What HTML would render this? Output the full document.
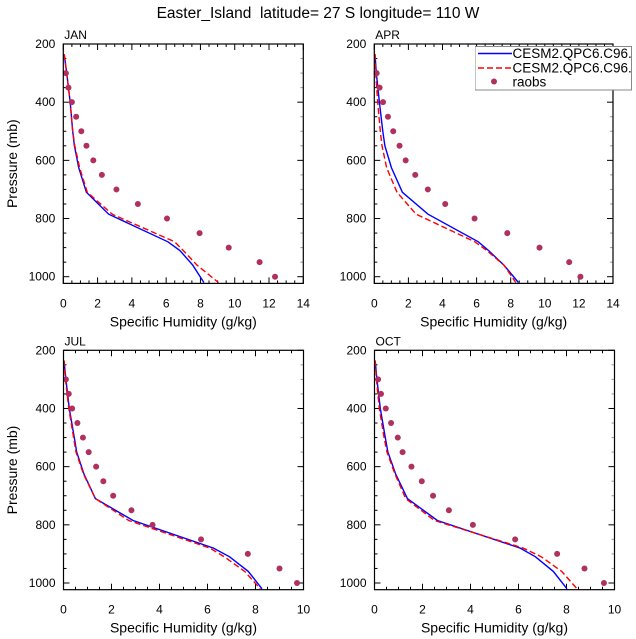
<!DOCTYPE html>
<html><head><meta charset="utf-8">
<style>
html,body{margin:0;padding:0;background:#fff;}
svg{display:block;font-family:"Liberation Sans",sans-serif;}
</style></head>
<body>
<svg id="chart" width="636" height="639" viewBox="0 0 636 639" xmlns="http://www.w3.org/2000/svg">
<defs><clipPath id="legclip"><rect x="475" y="46" width="157" height="45"/></clipPath></defs>
<text x="318" y="18" font-size="15.5" text-anchor="middle" style="white-space:pre">Easter_Island  latitude= 27 S longitude= 110 W</text>
</svg>
<script>
// Shared model pressure levels (mb)
const modelLevels = [235, 300, 400, 500, 550, 625, 710, 785, 880, 910, 960, 1020];
// Observation pressure levels (mb)
const obsLevels = [300, 350, 400, 450, 500, 550, 600, 650, 700, 750, 800, 850, 900, 950, 1000];

const janBlue = [0.05, 0.2, 0.4, 0.55, 0.65, 0.9, 1.35, 2.65, 6.1, 6.8, 7.55, 8.2];
const janRed  = [0.05, 0.2, 0.4, 0.55, 0.67, 0.95, 1.4, 2.85, 6.5, 7.0, 7.8, 9.05];
const janObs  = [0.15, 0.3, 0.5, 0.75, 1.05, 1.35, 1.75, 2.25, 3.1, 4.35, 6.05, 7.95, 9.65, 11.45, 12.35];

const aprBlue = [0.04, 0.12, 0.3, 0.5, 0.62, 1.0, 1.65, 3.15, 6.1, 6.7, 7.6, 8.45];
const aprRed  = [0.04, 0.08, 0.2, 0.35, 0.45, 0.72, 1.33, 2.45, 5.9, 6.6, 7.6, 8.3];
const aprObs  = [0.14, 0.31, 0.51, 0.8, 1.11, 1.48, 1.84, 2.4, 3.14, 4.16, 5.88, 7.8, 9.69, 11.43, 12.09];

const julBlue = [0.02, 0.1, 0.24, 0.45, 0.55, 0.85, 1.33, 2.9, 6.25, 6.92, 7.7, 8.27];
const julRed  = [0.02, 0.08, 0.22, 0.42, 0.52, 0.83, 1.33, 2.72, 6.1, 6.7, 7.55, 8.2];
const julObs  = [0.1, 0.22, 0.36, 0.58, 0.81, 1.05, 1.36, 1.66, 2.07, 2.83, 3.71, 5.73, 7.68, 9.0, 9.73];

const octBlue = [0.03, 0.1, 0.24, 0.45, 0.56, 0.88, 1.37, 2.62, 6.07, 6.71, 7.45, 8.02];
const octRed  = [0.03, 0.08, 0.2, 0.4, 0.52, 0.85, 1.3, 2.5, 6.2, 6.95, 7.8, 8.44];
const octObs  = [0.15, 0.27, 0.47, 0.69, 0.97, 1.17, 1.54, 1.97, 2.44, 3.1, 4.1, 5.86, 7.61, 8.75, 9.56];

const yTicks = [200, 400, 600, 800, 1000];
const xTicksTop = [0, 2, 4, 6, 8, 10, 12, 14];
const xTicksBottom = [0, 2, 4, 6, 8, 10];

const NS = "http://www.w3.org/2000/svg";
const svg = document.getElementById('chart');
function mk(tag, attrs, parent) {
  const e = document.createElementNS(NS, tag);
  for (const k in attrs) e.setAttribute(k, attrs[k]);
  (parent || svg).appendChild(e);
  return e;
}

function panel(cfg) {
  const g = mk('g', {});
  
  
  const L = cfg.left, R = cfg.right, T = cfg.top;
  const pTop = 200, pBot = 1023;
  const ys = (p) => T + (p - pTop) * cfg.pscale;
  const B = ys(pBot);
  const xs = (q) => L + (q - 0) / cfg.xmax * (R - L);

  const lab = mk('text', {x: L + 1, y: T - 5, 'font-size': 12}, g);
  lab.textContent = cfg.label;
  
  

  for (let p = 250; p <= 1000; p += 50) {
    if (p % 200 === 0) continue;
    mk('line', {x1: L, x2: L + 3, y1: ys(p), y2: ys(p), stroke: '#000', 'stroke-width': 1}, g);
    mk('line', {x1: R, x2: R - 3, y1: ys(p), y2: ys(p), stroke: '#999', 'stroke-width': 1}, g);
  }
  yTicks.forEach(p => {
    mk('line', {x1: L, x2: L + 6, y1: ys(p), y2: ys(p), stroke: '#000', 'stroke-width': 1}, g);
    mk('line', {x1: R, x2: R - 6, y1: ys(p), y2: ys(p), stroke: '#000', 'stroke-width': 1}, g);
    const t = mk('text', {x: L - 8, y: ys(p) + 4, 'font-size': 12, 'text-anchor': 'end'}, g);
    t.textContent = p;
    
    
  });
  const xt = cfg.xticks;
  for (let q = 0; q <= cfg.xmax + 1e-6; q += 0.5) {
    const major = xt.indexOf(q) >= 0;
    const len = major ? 6 : 3;
    mk('line', {x1: xs(q), x2: xs(q), y1: T, y2: T + len, stroke: '#000', 'stroke-width': 1}, g);
    mk('line', {x1: xs(q), x2: xs(q), y1: B, y2: B - len, stroke: '#000', 'stroke-width': 1}, g);
  }
  xt.forEach(q => {
    const t = mk('text', {x: xs(q), y: B + 24, 'font-size': 12, 'text-anchor': 'middle'}, g);
    t.textContent = q;
    
    
  });
  const xl = mk('text', {x: (L + R) / 2, y: B + 43, 'font-size': 14, 'text-anchor': 'middle'}, g);
  xl.textContent = 'Specific Humidity (g/kg)';
  
  
  if (cfg.ylabel) {
    const cy = (T + B) / 2;
    const yl = mk('text', {x: 17, y: cy, 'font-size': 14, 'text-anchor': 'middle', transform: `rotate(-90 17 ${cy})`}, g);
    yl.textContent = 'Pressure (mb)';
    
    
  }
  const line = (vals, color, dash, nm) => {
    const d = vals.map((v, i) => (i ? 'L' : 'M') + xs(v).toFixed(1) + ',' + ys(modelLevels[i]).toFixed(1)).join(' ');
    const pth = mk('path', {d: d, fill: 'none', stroke: color, 'stroke-width': 1.4}, g);
    if (dash) pth.setAttribute('stroke-dasharray', dash);
    
    
  };
  line(cfg.blue, '#0000ff', null, cfg.name + '-model-1-line');
  line(cfg.red, '#ff0000', '6,3', cfg.name + '-model-2-line');
  cfg.obs.forEach((v, i) => {
    const c = mk('circle', {cx: xs(v), cy: ys(obsLevels[i]), r: 3, fill: '#b03060'}, g);
    
    
  });
  const fr = mk('rect', {x: L, y: T, width: R - L, height: B - T, fill: 'none', stroke: '#000', 'stroke-width': 1.2}, g);
  
  
}

panel({name: 'jan', label: 'JAN', left: 63.3, right: 303.3, top: 44, pscale: 232.7 / 800, xmax: 14, xticks: xTicksTop, blue: janBlue, red: janRed, obs: janObs, ylabel: true});
panel({name: 'apr', label: 'APR', left: 374.3, right: 613, top: 44, pscale: 232.7 / 800, xmax: 14, xticks: xTicksTop, blue: aprBlue, red: aprRed, obs: aprObs, ylabel: false});
panel({name: 'jul', label: 'JUL', left: 63.5, right: 303.5, top: 350.3, pscale: 232.7 / 800, xmax: 10, xticks: xTicksBottom, blue: julBlue, red: julRed, obs: julObs, ylabel: true});
panel({name: 'oct', label: 'OCT', left: 374.5, right: 614.5, top: 350.3, pscale: 232.7 / 800, xmax: 10, xticks: xTicksBottom, blue: octBlue, red: octRed, obs: octObs, ylabel: false});

const lg = mk('g', {'clip-path': 'url(#legclip)'});


mk('rect', {x: 475, y: 46.5, width: 156.5, height: 43.5, fill: '#fff', stroke: '#888', 'stroke-width': 1}, lg);
mk('line', {x1: 478, x2: 512, y1: 53.5, y2: 53.5, stroke: '#0000ff', 'stroke-width': 1.4}, lg);
mk('line', {x1: 478, x2: 512, y1: 68, y2: 68, stroke: '#ff0000', 'stroke-width': 1.4, 'stroke-dasharray': '6,3'}, lg);
mk('circle', {cx: 494, cy: 81.5, r: 3, fill: '#b03060'}, lg);
const e1 = mk('text', {x: 512.5, y: 58, 'font-size': 13.5}, lg); e1.textContent = 'CESM2.QPC6.C96.C96';


const e2 = mk('text', {x: 512.5, y: 72.5, 'font-size': 13.5}, lg); e2.textContent = 'CESM2.QPC6.C96.C96';


const e3 = mk('text', {x: 512.5, y: 86.5, 'font-size': 13.5}, lg); e3.textContent = 'raobs';


</script>
</body></html>
